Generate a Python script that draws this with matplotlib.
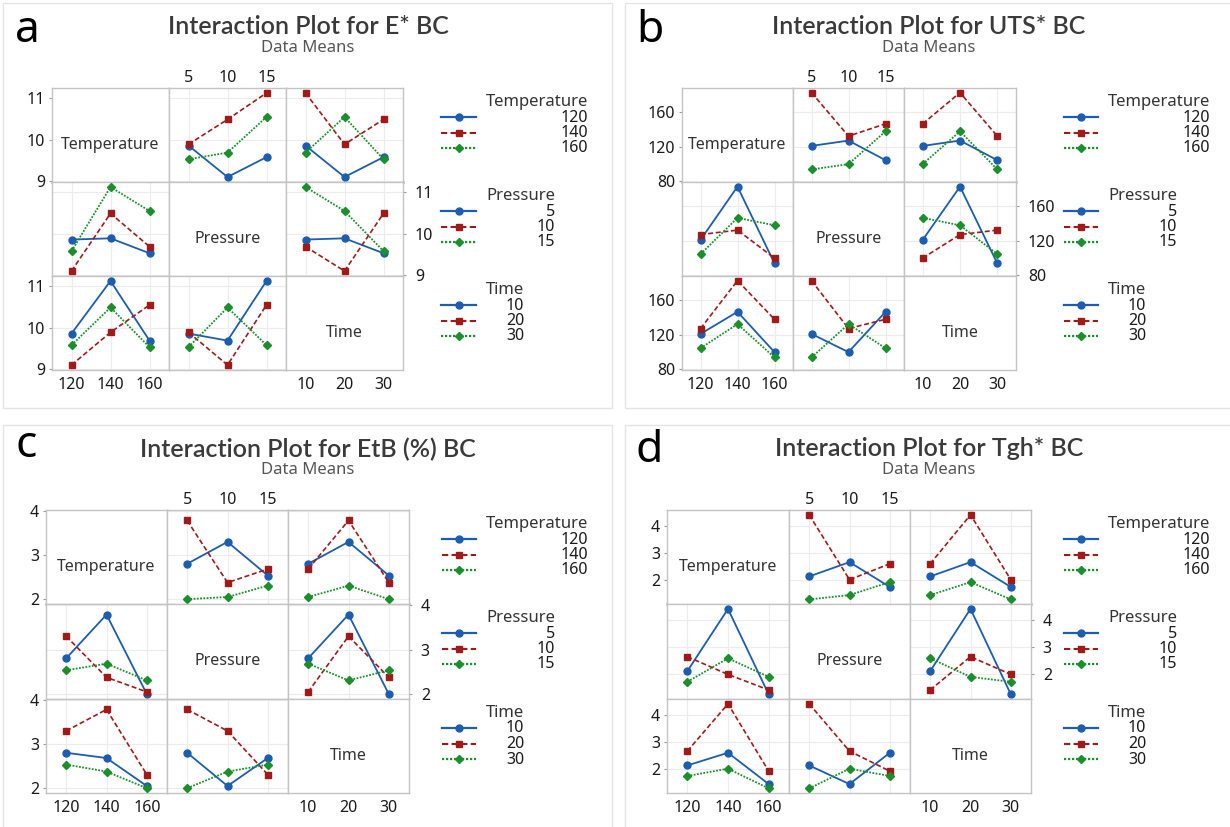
import matplotlib
matplotlib.use('Agg')
import matplotlib.pyplot as plt
import pandas as pd
from matplotlib.lines import Line2D
from matplotlib.patches import Rectangle

plt.rcParams['font.family'] = ['Noto Sans', 'DejaVu Sans']

# L9 orthogonal array: one run per row
temperature = [120, 120, 120, 140, 140, 140, 160, 160, 160]
pressure = [5, 10, 15, 5, 10, 15, 5, 10, 15]
time = [10, 20, 30, 20, 30, 10, 30, 10, 20]

# responses of the bacterial cellulose films
e_mod = [9.86, 9.10, 9.58, 9.89, 10.49, 11.13, 9.53, 9.69, 10.55]
uts = [120.8, 127.0, 104.2, 182.8, 132.2, 146.5, 93.4, 99.6, 137.8]
etb = [2.80, 3.30, 2.53, 3.79, 2.37, 2.68, 1.99, 2.04, 2.30]
tgh = [2.12, 2.65, 1.73, 4.40, 2.00, 2.59, 1.27, 1.43, 1.91]

factors = ['Temperature', 'Pressure', 'Time']
levels = {'Temperature': [120, 140, 160], 'Pressure': [5, 10, 15], 'Time': [10, 20, 30]}
xlims = {'Temperature': (110, 170), 'Pressure': (2.5, 17.5), 'Time': (5, 35)}

styles = [
    dict(color='#1c5db0', ls='-', lw=1.3, marker='o', ms=5),
    dict(color='#a11a1a', ls=(0, (3, 1.6)), lw=1.2, marker='s', ms=5),
    dict(color='#1b8f2b', ls=(0, (1, 0.8)), lw=1.3, marker='D', ms=4),
]

panels = [
    dict(letter='a', title='Interaction Plot for E* BC', y=e_mod, ylim=(8.98, 11.25), yticks=[9, 10, 11],
         cols=[52, 169, 286, 403], rows=[88, 182, 276, 370], frame=(3, 3, 612, 408),
         tx=308, ty=27, lx=15, ly=42, leg_line=(441, 476), leg_title=486),
    dict(letter='b', title='Interaction Plot for UTS* BC', y=uts, ylim=(78.8, 188.2), yticks=[80, 120, 160],
         cols=[682, 793, 904, 1016], rows=[88, 182, 276, 370], frame=(625, 3, 1240, 408),
         tx=929, ty=27, lx=636, ly=42, leg_line=(1064, 1098), leg_title=1108),
    dict(letter='c', title='Interaction Plot for EtB (%) BC', y=etb, ylim=(1.88, 4.03), yticks=[2, 3, 4],
         cols=[46, 167, 288, 409], rows=[510, 604, 699, 793], frame=(3, 425, 612, 840),
         tx=308, ty=449, lx=15, ly=457, leg_line=(442, 476), leg_title=486),
    dict(letter='d', title='Interaction Plot for Tgh* BC', y=tgh, ylim=(1.10, 4.58), yticks=[2, 3, 4],
         cols=[667, 789, 910, 1031], rows=[510, 604, 699, 793], frame=(625, 425, 1240, 840),
         tx=929, ty=449, lx=636, ly=462, leg_line=(1064, 1098), leg_title=1108),
]

W, H = 1230, 827
fig = plt.figure(figsize=(W / 100, H / 100), dpi=100)
fig.patch.set_facecolor('white')

# pixel-space layer for frames, titles and legends
over = fig.add_axes([0, 0, 1, 1])
over.set_xlim(0, W)
over.set_ylim(H, 0)
over.axis('off')


def rect(x0, y0, x1, y1):
    return [x0 / W, 1 - y1 / H, (x1 - x0) / W, (y1 - y0) / H]


spine_col = '#c4c4c4'
tick_size = 11.5
legend_titles = []

for p in panels:
    fx0, fy0, fx1, fy1 = p['frame']
    over.add_patch(Rectangle((fx0, fy0), fx1 - fx0, fy1 - fy0, fill=False, ec='#e4e4e4', lw=1))
    over.text(p['lx'], p['ly'], p['letter'], fontsize=32, color='black', va='baseline', ha='left')
    over.text(p['tx'], p['ty'], p['title'], fontsize=18, family=['Lato', 'DejaVu Sans'],
              fontweight='semibold', color='#3a3a3a', ha='center', va='center')
    over.text(p['tx'], p['ty'] + 20.5, 'Data Means', fontsize=12, color='#555555', ha='center', va='center')

    df = pd.DataFrame({'Temperature': temperature, 'Pressure': pressure, 'Time': time, 'y': p['y']})
    cols, rows = p['cols'], p['rows']
    for i, row_f in enumerate(factors):
        for j, col_f in enumerate(factors):
            ax = fig.add_axes(rect(cols[j], rows[i], cols[j + 1], rows[i + 1]))
            ax.set_xlim(*xlims[col_f])
            ax.set_ylim(*p['ylim'])
            for s in ax.spines.values():
                s.set_color(spine_col)
                s.set_linewidth(1.0)
            ax.set_xticks(levels[col_f])
            ax.set_yticks(p['yticks'])
            ax.tick_params(axis='x', length=0, labelsize=tick_size, labelcolor='#1a1a1a',
                           bottom=False, top=False, labelbottom=False, labeltop=False, pad=5)
            ax.tick_params(axis='y', length=2.5, width=0.8, color='#9a9a9a', labelsize=tick_size,
                           labelcolor='#1a1a1a', left=False, right=False, labelleft=False,
                           labelright=False)
            if i == j:
                ax.text(0.5, 0.395, row_f, transform=ax.transAxes, ha='center', va='center',
                        fontsize=11.5, color='#333333')
            else:
                ax.grid(True, color='#ececec', lw=0.8)
                ax.set_axisbelow(True)
                means = df.pivot_table(index=col_f, columns=row_f, values='y', aggfunc='mean')
                for k, lev in enumerate(levels[row_f]):
                    ax.plot(means.index, means[lev], clip_on=False, zorder=3, **styles[k])
            if i == 2 and j in (0, 2):
                ax.tick_params(axis='x', labelbottom=True)
            if i == 0 and j == 1:
                ax.tick_params(axis='x', labeltop=True, pad=1.5)
            if j == 0 and i in (0, 2):
                ax.tick_params(axis='y', left=True, labelleft=True, pad=2.5)
            if j == 2 and i == 1:
                ax.tick_params(axis='y', right=True, labelright=True, pad=6)

        # legend block for this row factor
        lx0, lx1 = p['leg_line']
        t = over.text(p['leg_title'], rows[i] + 14, row_f, fontsize=12, color='#333333',
                      ha='left', va='center')
        legend_titles.append((t, rows[i], lx0, lx1, row_f))

    # heavier rule under the first row of cells
    over.add_line(Line2D([cols[0], cols[3]], [rows[1], rows[1]], color='#d2d2d2', lw=2.2, zorder=5))

fig.canvas.draw()
inv = over.transData.inverted()
for t, top, lx0, lx1, row_f in legend_titles:
    bb = t.get_window_extent()
    x_right = inv.transform((bb.x1, bb.y0))[0]
    for k, lev in enumerate(levels[row_f]):
        yy = top + 29 + k * 15.5
        st = styles[k]
        over.add_line(Line2D([lx0, lx1], [yy, yy], color=st['color'], ls=st['ls'], lw=st['lw'] + 0.3))
        over.add_line(Line2D([(lx0 + lx1) / 2], [yy], color=st['color'], marker=st['marker'],
                             ms=st['ms'], ls='none'))
        over.text(x_right, yy + 0.5, str(lev), fontsize=11.5, color='#1a1a1a', ha='right', va='center')

fig.savefig('out.png', dpi=100, facecolor='white')
